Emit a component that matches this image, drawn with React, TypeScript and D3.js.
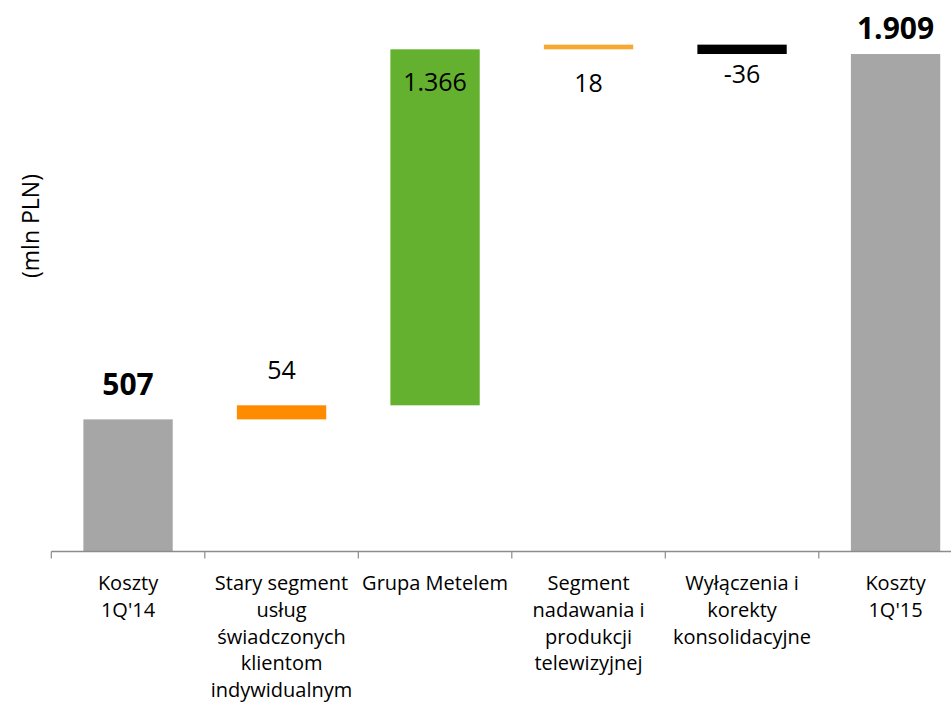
import { useRef, useEffect } from "react";
import * as d3 from "d3";

const categories = [
  ["Koszty", "1Q'14"],
  ["Stary segment", "usług", "świadczonych", "klientom", "indywidualnym"],
  ["Grupa Metelem"],
  ["Segment", "nadawania i", "produkcji", "telewizyjnej"],
  ["Wyłączenia i", "korekty", "konsolidacyjne"],
  ["Koszty", "1Q'15"],
];
const values = [507, 54, 1366, 18, -36, 1909];
const isTotal = [true, false, false, false, false, true];
const barColors = ["#a6a6a6", "#ff8c00", "#63b12f", "#f7a934", "#000000", "#a6a6a6"];
// label baseline offset from the upper edge of each bar
const labelDy = [-24.5, -26, 42, 47, 38.5, -14.7];
const labelBold = [true, false, false, false, false, true];

const App = () => {
  const svgRef = useRef<SVGSVGElement>(null);
  const width = 951;
  const height = 708;
  const baseY = 551.5;
  const left = 51.3;
  const step = 153.5;

  useEffect(() => {
    const svg = d3.select(svgRef.current);
    svg.selectAll("*").remove();

    const ids = categories.map((_, i) => String(i));
    const x = d3
      .scaleBand()
      .domain(ids)
      .range([left, left + step * ids.length])
      .paddingInner(0.418)
      .paddingOuter(0.209);

    const y = d3.scaleLinear().domain([0, 2000]).range([baseY, baseY - 2000 * 0.2606]);

    const pl = d3.formatLocale({
      decimal: ",",
      thousands: ".",
      grouping: [3],
      currency: ["", " zł"],
      minus: "-",
    });
    const fmt = pl.format(",d");

    // waterfall segments
    let run = 0;
    const bars = values.map((v, i) => {
      let lo, hi;
      if (isTotal[i]) {
        lo = 0;
        hi = v;
        run = v;
      } else {
        lo = Math.min(run, run + v);
        hi = Math.max(run, run + v);
        run += v;
      }
      return { id: ids[i], v, lo, hi, i };
    });

    svg
      .selectAll(".bar")
      .data(bars)
      .join("rect")
      .attr("class", "bar")
      .attr("x", (d) => x(d.id)!)
      .attr("width", x.bandwidth())
      .attr("y", (d) => y(d.hi))
      .attr("height", (d) => y(d.lo) - y(d.hi))
      .attr("fill", (d) => barColors[d.i]);

    // x axis
    const ax = svg.append("g");
    ax.append("line")
      .attr("x1", left)
      .attr("x2", width)
      .attr("y1", baseY)
      .attr("y2", baseY)
      .attr("stroke", "#8c8c8c")
      .attr("stroke-width", 1.5);
    ax.selectAll(".tick")
      .data(d3.range(ids.length + 1))
      .join("line")
      .attr("x1", (k) => left + k * step)
      .attr("x2", (k) => left + k * step)
      .attr("y1", baseY)
      .attr("y2", baseY + 7)
      .attr("stroke", "#8c8c8c")
      .attr("stroke-width", 1.2);

    const catG = svg
      .selectAll(".cat")
      .data(categories)
      .join("text")
      .attr("class", "cat")
      .attr("text-anchor", "middle")
      .attr("font-family", "'Open Sans', sans-serif")
      .attr("font-size", 20)
      .attr("fill", "#000");
    catG
      .selectAll("tspan")
      .data((d, i) => d.map((t) => ({ t, i })))
      .join("tspan")
      .attr("x", (d) => x(ids[d.i])! + x.bandwidth() / 2)
      .attr("y", (_, j) => 590 + j * 26.75)
      .text((d) => d.t);

    // value labels
    svg
      .selectAll(".lbl")
      .data(bars)
      .join("text")
      .attr("class", "lbl")
      .attr("text-anchor", "middle")
      .attr("font-family", "'Open Sans', sans-serif")
      .attr("font-size", (d) => (labelBold[d.i] ? 30 : 25))
      .attr("font-weight", (d) => (labelBold[d.i] ? "bold" : "normal"))
      .attr("x", (d) => x(d.id)! + x.bandwidth() / 2)
      .attr("y", (d) => y(d.hi) + labelDy[d.i])
      .text((d) => fmt(d.v));

    // y axis title
    svg
      .append("text")
      .attr("transform", "translate(39,226) rotate(-90)")
      .attr("text-anchor", "middle")
      .attr("font-family", "'Open Sans', sans-serif")
      .attr("font-size", 23)
      .text("(mln PLN)");
  }, []);

  return (
    <svg
      ref={svgRef}
      width={width}
      height={height}
      style={{ position: "absolute", left: 0, top: 0, background: "#fff" }}
    />
  );
};

export default App;
